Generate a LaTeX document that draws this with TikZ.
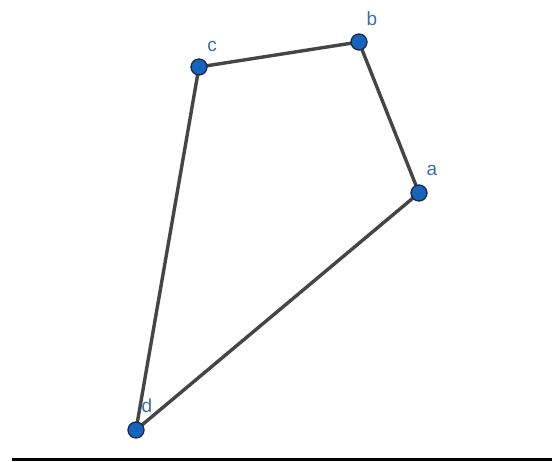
\documentclass[tikz,border=0pt]{standalone}
\usepackage{fontspec}
\setmainfont{Liberation Sans}
\usetikzlibrary{positioning}
\usepackage{xcolor}
\definecolor{ptblue}{HTML}{1565C0}
\definecolor{ptedge}{HTML}{1A2A44}
\definecolor{lblblue}{HTML}{3B6EA5}
\definecolor{segray}{HTML}{454545}

\tikzset{
  vertex/.style={circle, fill=ptblue, draw=ptedge, line width=1.3pt, minimum size=16pt, inner sep=0pt},
  vlabel/.style={text=lblblue, font=\fontsize{19}{19}\selectfont, inner sep=0pt},
  seg/.style={draw=segray, line width=3.4pt}
}

\begin{document}
\begin{tikzpicture}[x=1pt, y=1pt]
  \useasboundingbox (0,0) rectangle (552,462);
  \fill[white] (0,0) rectangle (552,462);

  % the four corners
  \coordinate (pa) at (419,269);
  \coordinate (pb) at (359,420);
  \coordinate (pc) at (199,395);
  \coordinate (pd) at (136,32);

  \draw[seg] (pa) -- (pb) -- (pc) -- (pd) -- cycle;

  \node[vertex] (a) at (pa) {};
  \node[vertex] (b) at (pb) {};
  \node[vertex] (c) at (pc) {};
  \node[vertex] (d) at (pd) {};

  \node[vlabel] (la) at (432,292) {a};
  \node[vlabel] (lb) at (372,443) {b};
  \node[vlabel] (lc) at (212,416) {c};
  \node[vlabel] (ld) at (147,56) {d};

  % base rule
  \coordinate (rl) at (12,2);
  \coordinate (rr) at (552,2);
  \draw[line width=3pt, black] (rl) -- (rr);
\end{tikzpicture}
\end{document}
